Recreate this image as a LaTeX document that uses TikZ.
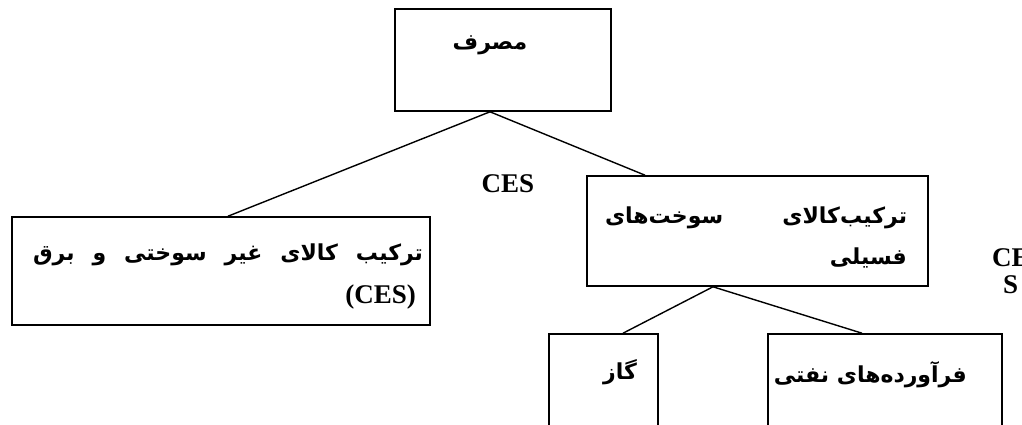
\documentclass[tikz,border=0pt]{standalone}
\usepackage{fontspec}
\setmainfont{Liberation Serif}
\newfontfamily\arabicfont[Script=Arabic]{DejaVu Sans}
\TeXXeTstate=1
\begin{document}
\begin{tikzpicture}[x=1pt,y=-1pt,
  box/.style={draw, line width=1.6pt, rectangle, inner sep=0pt},
  ar/.style={font=\arabicfont\bfseries\fontsize{22}{26}\selectfont, inner sep=0pt},
  lat/.style={font=\bfseries\fontsize{27}{31}\selectfont, inner sep=0pt},
  link/.style={line width=1.4pt}]
\fill[white] (0,0) rectangle (1022,425);
\useasboundingbox (0,0) rectangle (1022,425);
\clip (0,0) rectangle (1022,425);
% boxes
\node[box, minimum width=216pt, minimum height=102pt] (top) at (503,60) {};
\node[box, minimum width=418pt, minimum height=108pt] (left) at (221,271) {};
\node[box, minimum width=341pt, minimum height=110pt] (right) at (757.5,231) {};
\node[box, minimum width=109pt, minimum height=120pt] (gas) at (603.5,394) {};
\node[box, minimum width=234pt, minimum height=120pt] (oil) at (885,394) {};
% texts
\node[ar] (ttop) at (490,45) {\beginR مصرف\endR};
\node[ar] (tl1) at (228,255) {\makebox[390pt]{\beginR برق\endR\hfill\beginR و\endR\hfill\beginR سوختی\endR\hfill\beginR غیر\endR\hfill\beginR کالای\endR\hfill\beginR ترکیب\endR}};
\node[lat, anchor=east] (tl2) at (416,297) {(CES)};
\node[ar] (tr1) at (756,218) {\makebox[302pt]{\beginR سوخت‌های\endR\hfill\beginR ترکیب‌کالای\endR}};
\node[ar, anchor=east] (tr2) at (907,258) {\beginR فسیلی\endR};
\node[ar] (tgas) at (620,372) {\beginR گاز\endR};
\node[ar, anchor=east] (toil) at (967,375) {\beginR فرآورده‌های نفتی\endR};
\node[lat] (ces) at (508,184) {CES};
\node[lat, anchor=west] (ce) at (992,258) {CE};
\node[lat, anchor=west] (s) at (1003,285) {S};
% links
\draw[link] ([xshift=-13pt]top.south) -- ([xshift=7pt]left.north);
\draw[link] ([xshift=-13pt]top.south) -- ([xshift=-112.5pt]right.north);
\draw[link] ([xshift=-44.5pt]right.south) -- ([xshift=19.5pt]gas.north);
\draw[link] ([xshift=-44.5pt]right.south) -- ([xshift=-23pt]oil.north);
\end{tikzpicture}
\end{document}
